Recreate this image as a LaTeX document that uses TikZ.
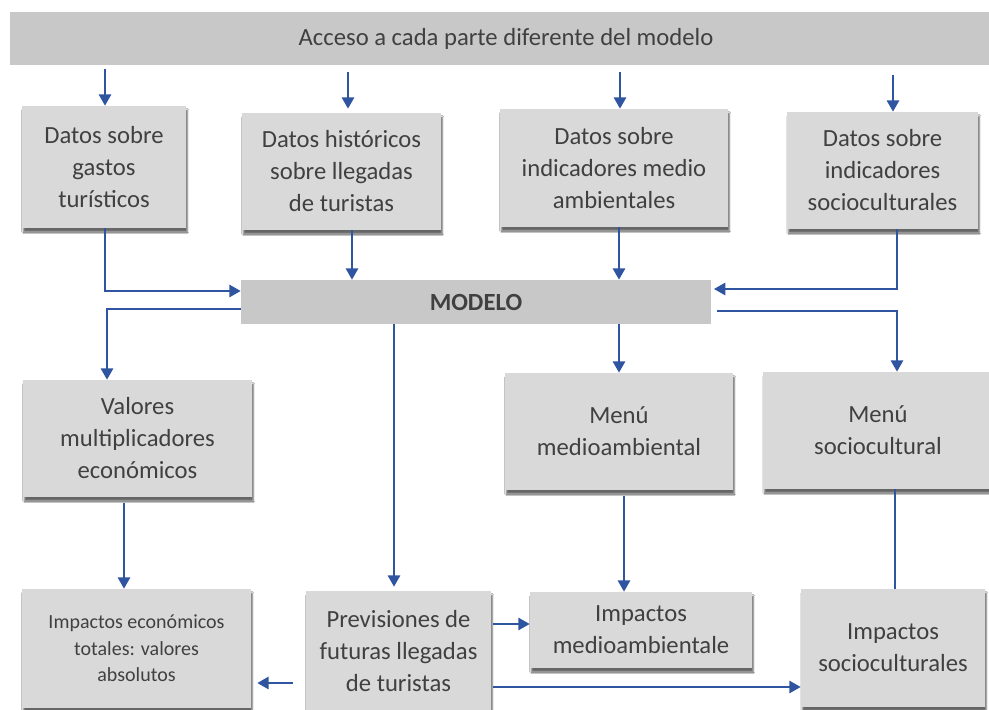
\documentclass[tikz,border=0pt]{standalone}
\usepackage{fontspec}
\setmainfont{Carlito}
\usetikzlibrary{arrows.meta,shadows.blur}
\definecolor{azul}{HTML}{2F54A0}
\definecolor{grisclaro}{HTML}{D9D9D9}
\definecolor{grisbarra}{HTML}{C8C8C8}
\definecolor{gristexto}{HTML}{404040}
\tikzset{
  caja/.style={fill=grisclaro,text=gristexto,align=center,inner sep=0pt,
    blur shadow={shadow xshift=1pt,shadow yshift=-3pt,shadow blur radius=1.2pt,shadow opacity=60},
    font=\fontsize{18.5}{24}\selectfont},
  barra/.style={fill=grisbarra,text=gristexto,inner sep=0pt,
    font=\fontsize{18.5}{24}\selectfont},
  flecha/.style={draw=azul,line width=2pt,-{Triangle[length=8.5pt,width=9pt]}},
  linea/.style={draw=azul,line width=2pt}
}
\begin{document}
\begin{tikzpicture}[x=.75pt,y=-.75pt]
\useasboundingbox[fill=white] (0,0) rectangle (989,710);
% barras grises
\node[barra,minimum width=744pt,minimum height=39.75pt] (acceso) at (506,38.5) {Acceso a cada parte diferente del modelo};
\node[barra,minimum width=352.5pt,minimum height=33pt,font=\fontsize{18.5}{24}\selectfont\bfseries] (modelo) at (476,302) {MODELO};
% datos de entrada
\node[caja,minimum width=123pt,minimum height=91.5pt] (gastos) at (104,167) {Datos sobre\\gastos\\turísticos};
\node[caja,minimum width=149.25pt,minimum height=87.75pt] (historicos) at (341.5,171.5) {Datos históricos\\sobre llegadas\\de turistas};
\node[caja,minimum width=171pt,minimum height=88.5pt] (indmedio) at (614,168) {Datos sobre\\indicadores medio\\ambientales};
\node[caja,minimum width=143.25pt,minimum height=87.75pt] (indsocio) at (882.5,170.5) {Datos sobre\\indicadores\\socioculturales};
% salidas del modelo
\node[caja,minimum width=171.75pt,minimum height=87.75pt] (valores) at (137.5,438.5) {Valores\\multiplicadores\\económicos};
\node[caja,minimum width=171pt,minimum height=87.75pt] (menumedio) at (619,431.5) {Menú\\medioambiental};
\node[caja,minimum width=172.5pt,minimum height=87.75pt] (menusocio) at (878,430.5) {Menú\\sociocultural};
% impactos
\node[caja,minimum width=171.75pt,minimum height=89.25pt,font=\fontsize{15}{20}\selectfont] (impeco) at (136.5,648.5) {Impactos económicos\\totales: valores\\absolutos};
\node[caja,minimum width=138.75pt,minimum height=90pt] (previs) at (398.5,651) {Previsiones de\\futuras llegadas\\de turistas};
\node[caja,minimum width=166.5pt,minimum height=57pt] (impmedio) at (641,630) {Impactos\\medioambientale};
\node[caja,minimum width=138pt,minimum height=88.5pt] (impsocio) at (893,648) {Impactos\\socioculturales};

% acceso a cada parte
\draw[flecha,shorten <=3pt] (acceso.south -| 105,0) -- (gastos.north -| 105,0);
\draw[flecha,shorten <=5pt,shorten >=3pt] (acceso.south -| 348,0) -- (historicos.north -| 348,0);
\draw[flecha,shorten <=5pt] (acceso.south -| 620,0) -- (indmedio.north -| 620,0);
\draw[flecha,shorten <=7.5pt] (acceso.south -| 893,0) -- (indsocio.north -| 893,0);

% entradas al modelo
\draw[flecha] (gastos.south -| 105,0) |- ([yshift=8.25pt]modelo.west);
\draw[flecha] (historicos.south -| 352,0) -- (modelo.north -| 352,0);
\draw[flecha] (indmedio.south -| 619,0) -- (modelo.north -| 619,0);
\draw[flecha,shorten >=2pt] (indsocio.south -| 897,0) |- ([yshift=9.75pt]modelo.east);

% salidas del modelo
\draw[flecha] ([yshift=-5.25pt]modelo.west) -| (valores.north -| 107,0);
\draw[flecha,shorten >=3pt] (modelo.south -| 394,0) -- (previs.north -| 394,0);
\draw[flecha] (modelo.south -| 619,0) -- (menumedio.north);
\draw[flecha,shorten <=4.5pt] ([yshift=-6.75pt]modelo.east) -| (menusocio.north -| 897,0);

% hacia los impactos
\draw[flecha,shorten <=4.5pt] (valores.south -| 124,0) -- (impeco.north -| 124,0);
\draw[flecha,shorten <=4.5pt] (menumedio.south -| 624,0) -- (impmedio.north -| 624,0);
\draw[linea] (menusocio.south -| 895,0) -- (impsocio.north -| 895,0);
\draw[flecha,shorten <=1.5pt] (previs.east |- 0,624) -- (impmedio.west |- 0,624);
\draw[flecha,shorten <=1.5pt] (previs.east |- 0,687) -- (impsocio.west |- 0,687);
\draw[flecha,shorten <=9.75pt,shorten >=4.5pt] (previs.west |- 0,683) -- (impeco.east |- 0,683);
\end{tikzpicture}
\end{document}
